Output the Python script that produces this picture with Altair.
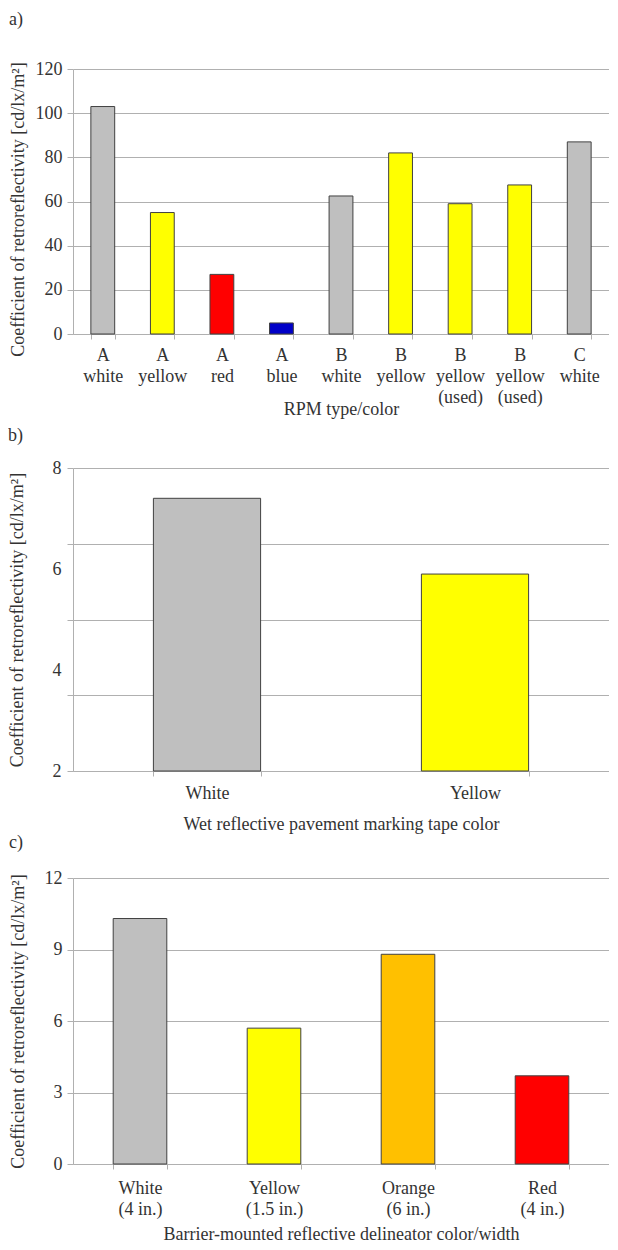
import json
import altair as alt
import pandas as pd

FONT = "Liberation Serif"
TEXT = "#333333"
GRID = "#b0b0b0"
EDGE = "#404040"
FS = 18

# ---------- Panel a: RPM ----------
rpm_type = ["A", "A", "A", "A", "B", "B", "B", "B", "C"]
rpm_color = ["white", "yellow", "red", "blue", "white", "yellow", "yellow", "yellow", "white"]
rpm_note = ["", "", "", "", "", "", "(used)", "(used)", ""]
rpm_value = [103, 55, 27, 5, 62.5, 82, 59, 67.5, 87]
rpm_fill = ["#bfbfbf", "#ffff00", "#ff0000", "#0000c8", "#bfbfbf",
            "#ffff00", "#ffff00", "#ffff00", "#bfbfbf"]
rpm_ticks = [0, 20, 40, 60, 80, 100, 120]

# ---------- Panel b: wet tape ----------
tape_color = ["White", "Yellow"]
tape_value = [7.4, 5.9]
tape_fill = ["#bfbfbf", "#ffff00"]
tape_grid = [2, 3.5, 5, 6.5, 8]
tape_labels = [2, 4, 6, 8]

# ---------- Panel c: delineators ----------
delin_color = ["White", "Yellow", "Orange", "Red"]
delin_width = ["(4 in.)", "(1.5 in.)", "(6 in.)", "(4 in.)"]
delin_value = [10.3, 5.7, 8.8, 3.7]
delin_fill = ["#bfbfbf", "#ffff00", "#ffc000", "#ff0000"]
delin_ticks = [0, 3, 6, 9, 12]

YTITLE = "Coefficient of retroreflectivity [cd/lx/m\u00b2]"
W = 536


def panel_title(txt, offset):
    return alt.TitleParams(txt, anchor="start", frame="bounds", offset=offset,
                           font=FONT, fontSize=FS, fontWeight="normal",
                           color=TEXT)


def x_axis(labels, title, title_y, label_pad, title_lh=None):
    kw = {}
    if title_lh is not None:
        kw["titleLineHeight"] = title_lh
    return alt.Axis(
        title=title, labelAngle=0, tickBand="extent", tickSize=5,
        labelExpr=f"{json.dumps(labels)}[datum.value]",
        labelBaseline="alphabetic", labelPadding=label_pad, labelLineHeight=21,
        titleBaseline="alphabetic", titleY=title_y, labelOverlap=False, **kw
    )


def band():
    return alt.Scale(paddingInner=0.6, paddingOuter=0.3)


# Panel a
labels_a = [[t, c] + ([n] if n else []) for t, c, n in zip(rpm_type, rpm_color, rpm_note)]
df_a = pd.DataFrame({"idx": list(range(len(rpm_value))), "v": rpm_value, "fill": rpm_fill})
chart_a = alt.Chart(df_a).mark_bar(stroke=EDGE, strokeWidth=1).encode(
    x=alt.X("idx:O", scale=band(),
            axis=x_axis(labels_a, ["RPM type/color", " "], 80, 21, title_lh=8)),
    y=alt.Y("v:Q", scale=alt.Scale(domain=[0, 120], nice=False),
            axis=alt.Axis(values=rpm_ticks, title=YTITLE, tickSize=6, labelPadding=5,
                          titleX=-50, titleY=140, titleBaseline="alphabetic")),
    fill=alt.Fill("fill:N", scale=None),
).properties(width=W, height=265, title=panel_title("a)", 31))

# Panel b
labels_b = [[c] for c in tape_color]
df_b = pd.DataFrame({"idx": list(range(len(tape_value))), "v": tape_value, "fill": tape_fill})
yscale_b = alt.Scale(domain=[2, 8], nice=False, zero=False)
base_b = alt.Chart(df_b)
bars_b = base_b.mark_bar(stroke=EDGE, strokeWidth=1).encode(
    x=alt.X("idx:O", scale=band(),
            axis=x_axis(labels_b, "Wet reflective pavement marking tape color", 58, 22)),
    y=alt.Y("v:Q", scale=yscale_b,
            axis=alt.Axis(values=tape_grid, labels=False, title=None, tickSize=6,
                          orient="left")),
    y2=alt.datum(2),
    fill=alt.Fill("fill:N", scale=None),
)
ghost_b = base_b.mark_bar(opacity=0).encode(
    x=alt.X("idx:O", scale=band()),
    y=alt.Y("v:Q", scale=yscale_b,
            axis=alt.Axis(values=tape_labels, grid=False, ticks=False, domain=False,
                          labelPadding=12, orient="left", title=YTITLE,
                          titleX=-51, titleBaseline="alphabetic")),
    y2=alt.datum(2),
)
chart_b = alt.layer(bars_b, ghost_b).resolve_axis(y="independent").properties(
    width=W, height=303, title=panel_title("b)", 14.5))

# Panel c
labels_c = [[c, w] for c, w in zip(delin_color, delin_width)]
df_c = pd.DataFrame({"idx": list(range(len(delin_value))), "v": delin_value, "fill": delin_fill})
chart_c = alt.Chart(df_c).mark_bar(stroke=EDGE, strokeWidth=1).encode(
    x=alt.X("idx:O", scale=band(),
            axis=x_axis(labels_c, "Barrier-mounted reflective delineator color/width", 75, 24)),
    y=alt.Y("v:Q", scale=alt.Scale(domain=[0, 12], nice=False),
            axis=alt.Axis(values=delin_ticks, title=YTITLE, tickSize=6, labelPadding=5,
                          titleX=-50, titleBaseline="alphabetic")),
    fill=alt.Fill("fill:N", scale=None),
).properties(width=W, height=286, title=panel_title("c)", 17.5))

chart = alt.vconcat(chart_a, chart_b, chart_c, spacing=0).properties(
    padding={"left": 0, "right": 0, "top": 3, "bottom": 0}, background="white"
).configure_axis(
    labelFont=FONT, titleFont=FONT, labelFontSize=FS, titleFontSize=FS,
    labelColor=TEXT, titleColor=TEXT, titleFontWeight="normal",
    gridColor=GRID, domainColor=GRID, tickColor=GRID, gridWidth=1,
).configure_view(stroke=None)

chart.save("out.html", embed_options={"renderer": "svg", "actions": False})
